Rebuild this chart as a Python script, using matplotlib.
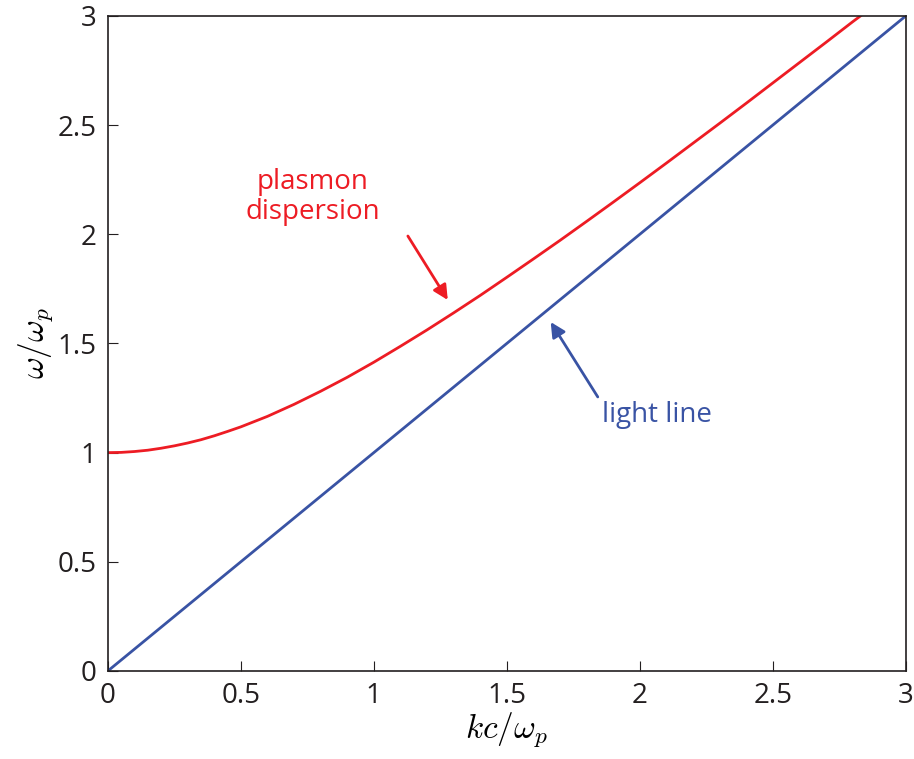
import matplotlib
matplotlib.use("Agg")
import matplotlib.pyplot as plt

plt.rcParams["font.family"] = ["Open Sans", "DejaVu Sans"]
plt.rcParams["mathtext.fontset"] = "cm"

# Plasmon dispersion curve (normalised units)
k_plasmon = [0.0, 0.05, 0.1, 0.15, 0.2, 0.25, 0.3, 0.35, 0.4, 0.45, 0.5,
             0.6, 0.7, 0.8, 0.9, 1.0,
             1.1, 1.2, 1.3, 1.4, 1.5, 1.6, 1.7, 1.8, 1.9, 2.0,
             2.1, 2.2, 2.3, 2.4, 2.5, 2.6, 2.7, 2.8, 2.9]
w_plasmon = [1.000, 1.001, 1.005, 1.011, 1.020, 1.031, 1.044, 1.059, 1.077, 1.097, 1.118,
             1.166, 1.221, 1.281, 1.345, 1.414,
             1.487, 1.562, 1.640, 1.720, 1.803, 1.887, 1.972, 2.059, 2.147, 2.236,
             2.326, 2.417, 2.508, 2.600, 2.693, 2.786, 2.879, 2.973, 3.064]

# Light line omega = ck
k_light = [0.0, 3.0]
w_light = [0.0, 3.0]

xticks = [0, 0.5, 1, 1.5, 2, 2.5, 3]
yticks = [0, 0.5, 1, 1.5, 2, 2.5, 3]
tick_labels = ["0", "0.5", "1", "1.5", "2", "2.5", "3"]

red = "#ed1c24"
blue = "#3953a4"

fig = plt.figure(figsize=(9.14, 7.59), dpi=100)
ax = fig.add_axes([0.118, 0.116, 0.873, 0.863])

ax.plot(k_plasmon, w_plasmon, color=red, lw=2.0)
ax.plot(k_light, w_light, color=blue, lw=2.0)

ax.set_xlim(0, 3)
ax.set_ylim(0, 3)
ax.set_xticks(xticks)
ax.set_yticks(yticks)
ax.set_xticklabels(tick_labels)
ax.set_yticklabels(tick_labels)
ax.tick_params(direction="in", length=7, width=0.8, labelsize=20,
               top=False, right=False, pad=8, colors="#231f20")
for s in ax.spines.values():
    s.set_linewidth(1.2)
    s.set_color("#231f20")

ax.set_xlabel(r"$kc/\omega_p$", fontsize=24, labelpad=0)
ax.set_ylabel(r"$\omega/\omega_p$", fontsize=24, labelpad=2)

ax.text(0.771, 2.171, "plasmon\ndispersion", color=red, fontsize=20,
        ha="center", va="center", linespacing=1.1)
ax.annotate("", xy=(1.278, 1.699), xytext=(1.128, 1.992),
            arrowprops=dict(arrowstyle="-|>", color=red, lw=2,
                            mutation_scale=22, shrinkA=0, shrinkB=0))

ax.text(2.064, 1.172, "light line", color=blue, fontsize=20,
        ha="center", va="center")
ax.annotate("", xy=(1.665, 1.598), xytext=(1.842, 1.255),
            arrowprops=dict(arrowstyle="-|>", color=blue, lw=2,
                            mutation_scale=22, shrinkA=0, shrinkB=0))

fig.savefig("out.png", dpi=100)
